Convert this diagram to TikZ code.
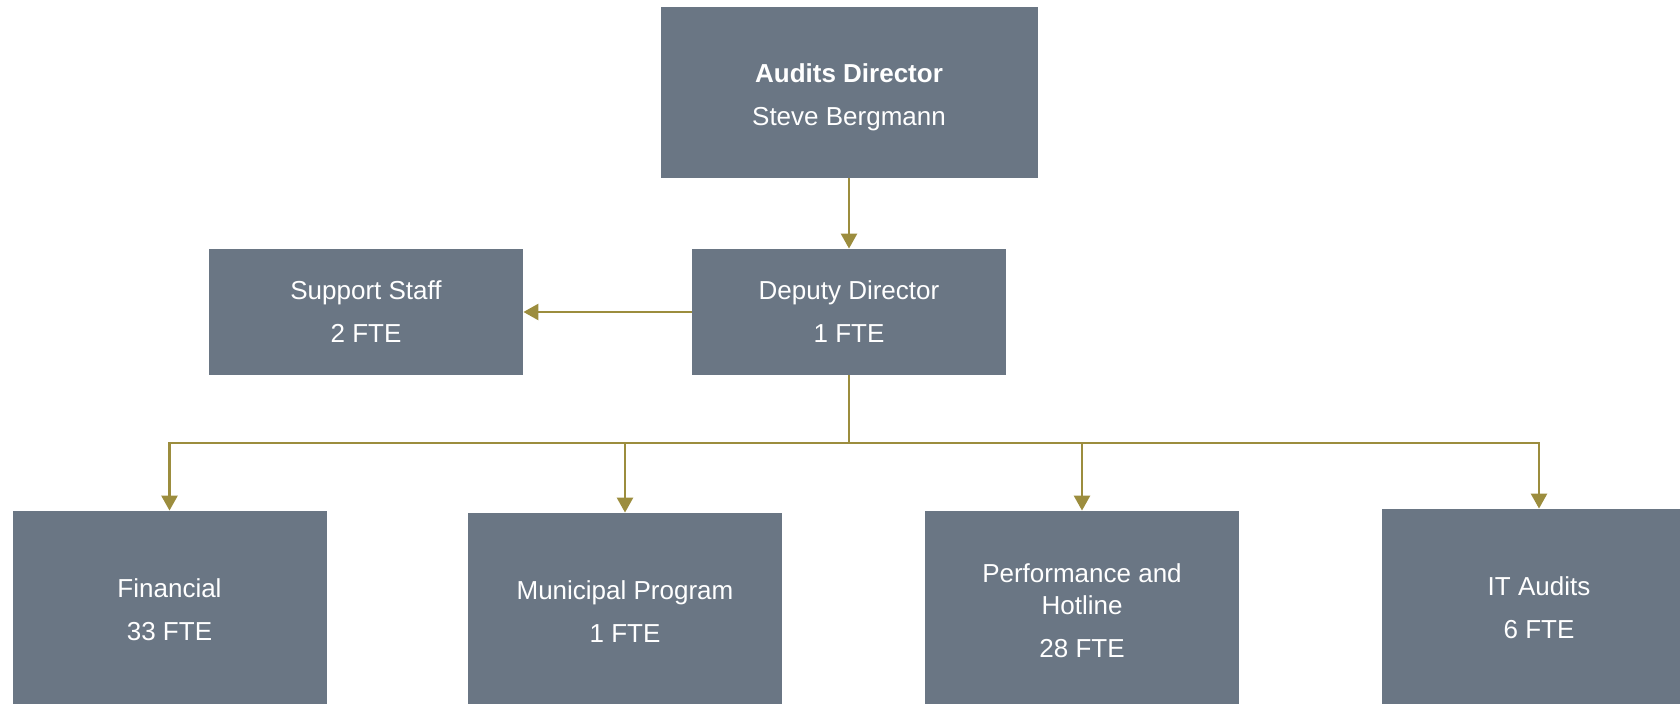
\documentclass[tikz,border=0pt]{standalone}
\usepackage{fontspec}
\setmainfont{Liberation Sans}
\usetikzlibrary{arrows.meta}
\definecolor{boxgray}{HTML}{6A7684}
\definecolor{olive}{HTML}{9C8D3E}
\tikzset{
  orgbox/.style={fill=boxgray, text=white, align=center, inner sep=0pt,
    minimum width=157pt, font=\fontsize{13}{21.5}\selectfont},
  conn/.style={draw=olive, line width=1.3pt},
  arr/.style={conn, -{Triangle[width=8pt,length=7.5pt]}}
}
\begin{document}
\begin{tikzpicture}[x=0.5pt,y=-0.5pt]
\useasboundingbox (0,0) rectangle (1680,704);
\node[orgbox, minimum width=188.5pt, minimum height=85.5pt] (dir) at (849,92.5) {\rule{0pt}{14pt}\textbf{Audits Director}\\Steve Bergmann};
\node[orgbox, minimum height=63pt] (dep) at (849,312) {Deputy Director\\1 FTE};
\node[orgbox, minimum height=63pt] (sup) at (366,312) {Support Staff\\2 FTE};
\node[orgbox, minimum height=99pt] (fin) at (169.5,610) {Financial\\33 FTE};
\node[orgbox, minimum height=99pt] (mun) at (625,612) {Municipal Program\\1 FTE};
\node[orgbox, minimum height=100pt, font=\fontsize{13}{16}\selectfont] (perf) at (1082,611) {Performance and\\Hotline\\[5.5pt]28 FTE};
\node[orgbox, minimum height=99pt] (it) at (1539,608) {IT Audits\\6 FTE};
\coordinate (bus) at (849,443);
\draw[arr] (dir.south) -- (dep.north);
\draw[arr] (dep.west) -- (sup.east);
\draw[conn] (dep.south) -- (bus);
\draw[arr] (bus) -| (fin.north);
\draw[arr] (bus) -| (mun.north);
\draw[arr] (bus) -| (perf.north);
\draw[arr] (bus) -| (it.north);
\end{tikzpicture}
\end{document}
